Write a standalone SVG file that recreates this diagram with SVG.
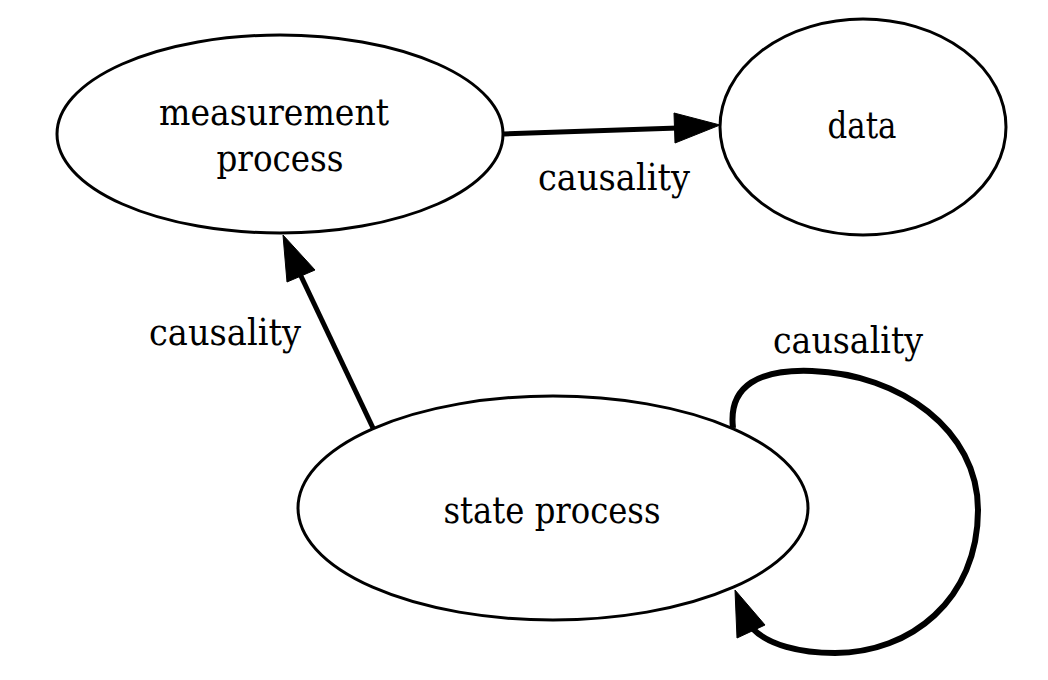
<svg xmlns="http://www.w3.org/2000/svg" width="1048" height="680" viewBox="0 0 1048 680">
<style>
.node ellipse{fill:#fff;stroke:#000;stroke-width:3}
.lbl{font-family:'DejaVu Serif','Liberation Serif',serif;font-size:37px;fill:#000;text-anchor:middle}
.edge{fill:none;stroke:#000;stroke-width:5}
.head{fill:#000;stroke:#000;stroke-width:1}
</style>
<rect width="1048" height="680" fill="#fff"/>
<g id="edges">
<g id="e-measurement-data">
<path class="edge" d="M504,134 L678,128"/>
<polygon class="head" points="720,125 674,113 675,143"/>
<text class="lbl" x="614" y="190" textLength="152" lengthAdjust="spacingAndGlyphs">causality</text>
</g>
<g id="e-state-measurement">
<path class="edge" d="M373,428 L300,274"/>
<polygon class="head" points="283,235 287,282 315,270"/>
<text class="lbl" x="225" y="345" textLength="152" lengthAdjust="spacingAndGlyphs">causality</text>
</g>
<g id="e-state-state">
<path class="edge" style="stroke-width:6" d="M733,428 C728,385 760,369 812,371 C900,374 978,430 978,510 C978,600 910,653 835,653 C800,653 768,645 752,628"/>
<polygon class="head" points="735,590 737,638 765,625"/>
<text class="lbl" x="848" y="353" textLength="150" lengthAdjust="spacingAndGlyphs">causality</text>
</g>
</g>
<g id="node-measurement" class="node">
<ellipse cx="280" cy="134" rx="223" ry="99"/>
<text class="lbl" x="274" y="125" textLength="230" lengthAdjust="spacingAndGlyphs">measurement</text>
<text class="lbl" x="280" y="171" textLength="127" lengthAdjust="spacingAndGlyphs">process</text>
</g>
<g id="node-data" class="node">
<ellipse cx="863" cy="127" rx="143" ry="108"/>
<text class="lbl" x="862" y="138" textLength="69" lengthAdjust="spacingAndGlyphs">data</text>
</g>
<g id="node-state" class="node">
<ellipse cx="553" cy="508" rx="255" ry="112"/>
<text class="lbl" x="552" y="523" textLength="217" lengthAdjust="spacingAndGlyphs">state process</text>
</g>
</svg>
